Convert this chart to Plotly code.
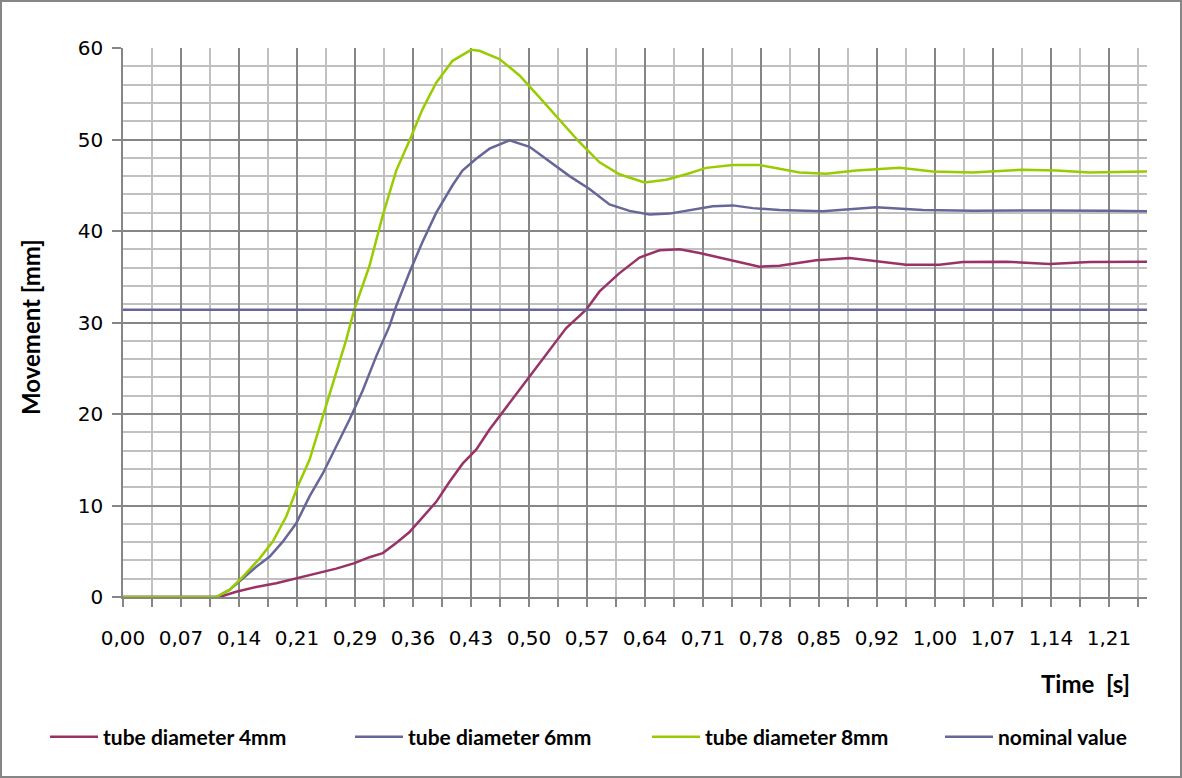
import plotly.graph_objects as go

# ---------------- data ----------------
tick_labels = ["0,00", "0,07", "0,14", "0,21", "0,29", "0,36", "0,43", "0,50", "0,57",
               "0,64", "0,71", "0,78", "0,85", "0,92", "1,00", "1,07", "1,14", "1,21"]

t_4mm = [0.0, 0.1186, 0.1389, 0.1635, 0.1880, 0.2126, 0.2371, 0.2616, 0.2841, 0.3025,
         0.3188, 0.3353, 0.3516, 0.3679, 0.3844, 0.4007, 0.4170, 0.4334, 0.4498, 0.4743,
         0.4989, 0.5234, 0.5439, 0.5684, 0.5848, 0.6093, 0.6339, 0.6584, 0.6830, 0.7075,
         0.7320, 0.7566, 0.7811, 0.8057, 0.8507, 0.8916, 0.9243, 0.9611, 1.0020, 1.0306,
         1.0839, 1.1370, 1.1861, 1.2570]
y_4mm = [0.0, 0.0, 0.58, 1.1, 1.5, 2.05, 2.6, 3.1, 3.7, 4.35,
         4.8, 5.9, 7.1, 8.8, 10.4, 12.6, 14.6, 16.1, 18.3, 21.2,
         24.1, 27.0, 29.4, 31.4, 33.4, 35.4, 37.1, 37.9, 38.0, 37.6,
         37.1, 36.6, 36.1, 36.2, 36.8, 37.05, 36.7, 36.3, 36.3, 36.6,
         36.65, 36.4, 36.6, 36.65]

t_6mm = [0.0, 0.1144, 0.1307, 0.1470, 0.1635, 0.1798, 0.1961, 0.2126, 0.2289, 0.2452,
         0.2616, 0.2780, 0.2943, 0.3107, 0.3270, 0.3353, 0.3516, 0.3675, 0.3844, 0.4044,
         0.4166, 0.4334, 0.4498, 0.4743, 0.4989, 0.5234, 0.5480, 0.5725, 0.5970, 0.6216,
         0.6461, 0.6707, 0.6952, 0.7238, 0.7483, 0.7729, 0.8057, 0.8302, 0.8588, 0.9243,
         0.9815, 1.0429, 1.1247, 1.2066, 1.2570]
y_6mm = [0.0, 0.0, 0.77, 2.05, 3.3, 4.4, 6.05, 8.05, 11.0, 13.5,
         16.4, 19.4, 22.6, 26.3, 29.6, 31.8, 35.5, 38.8, 42.0, 45.0,
         46.6, 47.9, 49.0, 49.9, 49.2, 47.6, 46.0, 44.6, 42.9, 42.2,
         41.8, 41.9, 42.3, 42.7, 42.8, 42.5, 42.3, 42.2, 42.15, 42.6,
         42.3, 42.2, 42.25, 42.2, 42.15]

t_8mm = [0.0, 0.1144, 0.1307, 0.1470, 0.1675, 0.1838, 0.2003, 0.2145, 0.2289, 0.2452,
         0.2616, 0.2739, 0.2841, 0.3025, 0.3188, 0.3353, 0.3516, 0.3675, 0.3844, 0.4044,
         0.4273, 0.4375, 0.4620, 0.4866, 0.5111, 0.5357, 0.5602, 0.5848, 0.6093, 0.6400,
         0.6666, 0.6912, 0.7157, 0.7483, 0.7811, 0.8057, 0.8302, 0.8630, 0.8998, 0.9530,
         0.9938, 1.0429, 1.1042, 1.1452, 1.1861, 1.2570]
y_8mm = [0.0, 0.0, 0.77, 2.2, 4.2, 6.05, 8.8, 12.1, 15.0, 19.7,
         24.5, 28.1, 31.5, 36.2, 41.7, 46.6, 49.9, 53.3, 56.2, 58.6,
         59.8, 59.7, 58.8, 57.0, 54.6, 52.2, 49.7, 47.5, 46.2, 45.3,
         45.6, 46.2, 46.9, 47.2, 47.2, 46.8, 46.4, 46.25, 46.6, 46.9,
         46.5, 46.4, 46.7, 46.6, 46.4, 46.5]

t_nominal = [0.0, 1.2570]
y_nominal = [31.4, 31.4]

series_names = ["tube diameter 4mm", "tube diameter 6mm", "tube diameter 8mm", "nominal value"]
series_colors = ["#993366", "#666699", "#99CC00", "#666699"]

# ---------------- layout geometry ----------------
W, H = 1182, 778
ML, MR, MT, MB = 123, 35, 48, 181
PW, PH = W - ML - MR, H - MT - MB
label_step = 1.21 / 17.0
x_max = PW / 58.0 * label_step

major_vals = [i * label_step for i in range(len(tick_labels))]
minor_vals = [(i + 0.5) * label_step for i in range(len(tick_labels))]

DARK = "#868686"
LIGHT = "#C0C0C0"
TICKFONT = dict(family="DejaVu Sans", size=20, color="#000000")
BOLDFONT = "Lato"
legend_ids = ["legend", "legend2", "legend3", "legend4"]
legend_text_x = [103, 408, 705, 998]

fig = go.Figure()
for tt, yy, name, col, lid in zip([t_4mm, t_6mm, t_8mm, t_nominal],
                                   [y_4mm, y_6mm, y_8mm, y_nominal],
                                   series_names, series_colors, legend_ids):
    fig.add_trace(go.Scatter(x=tt, y=yy, mode="lines", name=name, legend=lid,
                             line=dict(color=col, width=2.5)))

legend_layout = {}
for lid, tx in zip(legend_ids, legend_text_x):
    legend_layout[lid] = dict(orientation="h", xref="container", yref="container",
                              x=(tx - 58) / W, y=(H - 737) / H, xanchor="left", yanchor="middle",
                              itemwidth=48,
                              font=dict(family=BOLDFONT, size=21, color="#000000", weight="bold"),
                              bgcolor="rgba(0,0,0,0)")

fig.update_layout(
    width=W, height=H,
    margin=dict(l=ML, r=MR, t=MT, b=MB, autoexpand=False),
    paper_bgcolor="white", plot_bgcolor="white",
    showlegend=True,
    xaxis=dict(range=[0, x_max], tickmode="array", tickvals=major_vals, ticktext=tick_labels,
               showgrid=True, gridcolor=DARK, gridwidth=1.5,
               showline=True, linecolor=DARK, linewidth=1.5, zeroline=False,
               ticks="outside", ticklen=8, tickcolor=DARK, tickwidth=1.5,
               tickfont=TICKFONT, ticklabelstandoff=14,
               minor=dict(tickmode="array", tickvals=minor_vals, showgrid=True,
                          gridcolor=LIGHT, gridwidth=1.5, ticks="outside", ticklen=8,
                          tickcolor=DARK, tickwidth=1.5)),
    yaxis=dict(range=[0, 60], tick0=0, dtick=10,
               showgrid=True, gridcolor=DARK, gridwidth=1.5,
               showline=True, linecolor=DARK, linewidth=1.5, zeroline=False,
               ticks="outside", ticklen=9, tickcolor=DARK, tickwidth=1.5,
               tickfont=TICKFONT, ticklabelstandoff=5,
               minor=dict(dtick=2, tick0=0, showgrid=True, gridcolor=LIGHT, gridwidth=1.5)),
    annotations=[
        dict(text="Movement [mm]", textangle=-90, xref="paper", yref="paper",
             x=(30 - ML) / PW, y=(H - MB - 327) / PH, xanchor="center", yanchor="middle",
             showarrow=False, font=dict(family=BOLDFONT, size=24, color="#000000", weight="bold")),
        dict(text="Time\u00a0\u00a0[s]", xref="paper", yref="paper",
             x=(1085 - ML) / PW, y=-(683 - (MT + PH)) / PH, xanchor="center", yanchor="middle",
             showarrow=False, font=dict(family=BOLDFONT, size=24, color="#000000", weight="bold")),
    ],
    shapes=[dict(type="rect", xref="paper", yref="paper",
                 x0=(1 - ML) / PW, x1=1 + (MR - 1) / PW,
                 y0=-(MB - 1) / PH, y1=1 + (MT - 1) / PH,
                 line=dict(color=DARK, width=2), fillcolor="rgba(0,0,0,0)", layer="below")],
    **legend_layout,
)

fig.write_html("out.html", config={"displayModeBar": False},
               post_script="document.body.style.margin='0px';document.body.style.overflow='hidden';")
